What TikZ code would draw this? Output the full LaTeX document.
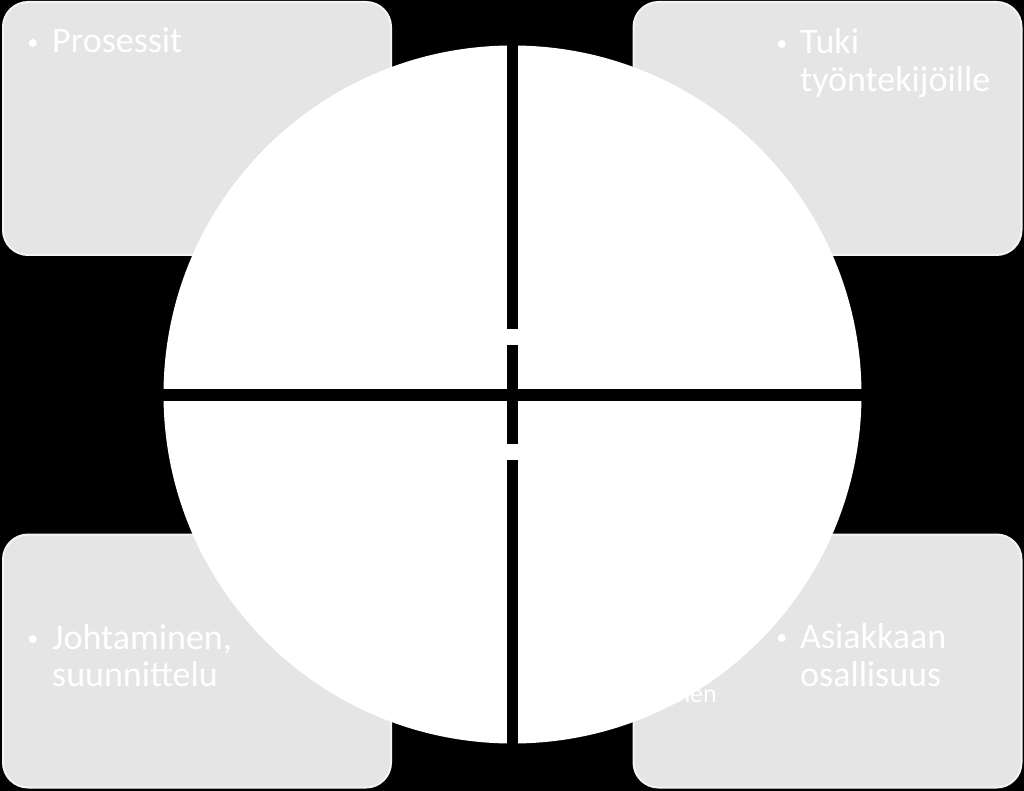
\documentclass[tikz,border=0pt]{standalone}
\usepackage{fontspec}
\setmainfont{Carlito}
\definecolor{boxgray}{RGB}{229,229,229}
\definecolor{boxline}{RGB}{244,244,244}

\begin{document}
\begin{tikzpicture}%
	[x=1pt, y=-1pt,
	box/.style={draw=boxline, line width=2pt, fill=boxgray, rounded corners=25pt, minimum width=388pt, minimum height=253pt, inner sep=0pt},
	label/.style={anchor=base west, inner sep=0pt, text=white, font=\fontsize{36}{37.5}\selectfont},
	hidden/.style={anchor=base east, inner sep=0pt, text=white, font=\fontsize{26}{30}\selectfont},
	gap/.style={fill=black},
	bridge/.style={fill=white}]
%
%% Page and background
%%
\useasboundingbox (0,0) rectangle (1024,791);
\fill[black] (0,0) rectangle (1024,791);
%%
%% Coordinates of the circle
%%
\coordinate (centre) at (512.5,394.5);
%%
%% Drawing the boxes in the back
%%
\node[box] (topleft) at (197,128.5) {};
\node[box] (topright) at (827.5,128.5) {};
\node[box] (bottomleft) at (197,661) {};
\node[box] (bottomright) at (827.5,661) {};
%%
%% Drawing the bullets and texts
%%
\fill[white] (32.7,43) circle (4);
\fill[white] (781.7,44) circle (4);
\fill[white] (32.7,639) circle (4);
\fill[white] (781.7,638) circle (4);
\node[label] (prosessit) at (52,53) {Prosessit};
\node[label] (tuki) at (800,54) {Tuki};
\node[label] (tyontekijoille) at (800,92) {työntekijöille};
\node[label] (johtaminen) at (52,649.3) {Johtaminen,};
\node[label] (suunnittelu) at (52,686.7) {suunnittelu};
\node[label] (asiakkaan) at (800,648.3) {Asiakkaan};
\node[label] (osallisuus) at (800,686.7) {osallisuus};
\node[hidden] (nen) at (717,702) {nen};
%%
%% Drawing the circle in the front
%%
\fill[white] (centre) circle (349);
\fill[gap] (506.7,40) rectangle (518.3,750);
\fill[gap] (160,389.3) rectangle (865,400.7);
\fill[bridge] (506.7,329) rectangle (518.3,345);
\fill[bridge] (506.7,444) rectangle (518.3,460);
%%
\end{tikzpicture}
\end{document}
